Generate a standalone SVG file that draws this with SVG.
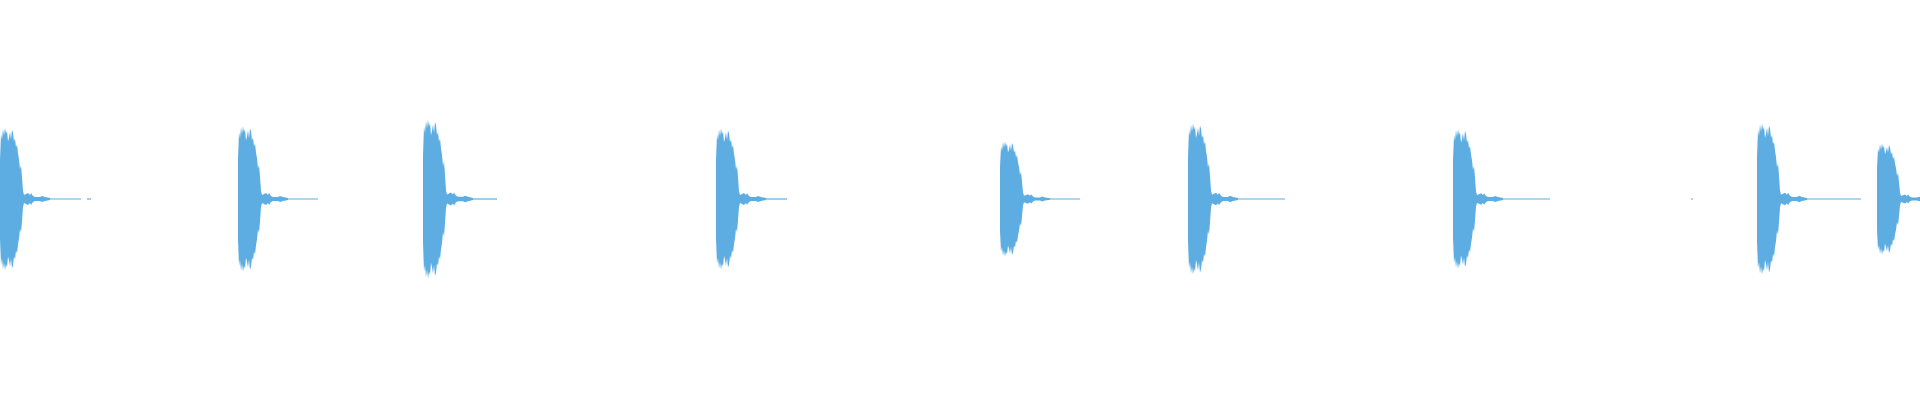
<svg xmlns="http://www.w3.org/2000/svg" width="1920" height="400" viewBox="0 0 1920 400">
<style>.w{fill:#5dade2}.t{stroke:#5dade2;stroke-width:1.2}</style>
<defs>
<path id="b" class="w" d="M0,-40 L1,-66 L2,-60 L3,-71 L4,-64 L5,-72 L6,-66 L7,-69 L8,-58 L9,-62 L10,-68 L11,-60 L12,-70 L13,-67 L14,-58 L15,-61 L16,-52 L17,-55 L18,-46 L19,-40 L20,-30 L21,-34 L22,-22 L23,-8 L24,-4 L26,-5 L28,-6 L30,-4 L31,-6 L33,-3 L35,-2 L40,-2 L42,-3 L45,-2 L50,-1 L50,1 L45,2 L42,3 L40,2 L35,2 L33,3 L31,6 L30,4 L28,6 L26,5 L24,4 L23,8 L22,22 L21,34 L20,30 L19,40 L18,46 L17,55 L16,52 L15,61 L14,58 L13,67 L12,70 L11,60 L10,68 L9,62 L8,58 L7,69 L6,66 L5,72 L4,64 L3,71 L2,60 L1,66 L0,40 Z"/>
</defs>
<g id="bursts">
<use href="#b" transform="translate(0,199) scale(1,0.99)"/>
<use href="#b" transform="translate(238,199) scale(1,1.01)"/>
<use href="#b" transform="translate(423,199) scale(1,1.1)"/>
<use href="#b" transform="translate(716,199) scale(1,0.98)"/>
<use href="#b" transform="translate(1000,199) scale(1,0.8)"/>
<use href="#b" transform="translate(1188,199) scale(1,1.05)"/>
<use href="#b" transform="translate(1453,199) scale(1,0.97)"/>
<use href="#b" transform="translate(1757,199) scale(1,1.05)"/>
<use href="#b" transform="translate(1877,199) scale(1,0.77)"/>
</g>
<g id="tails">
<line class="t" x1="45" y1="199" x2="81" y2="199"/><line class="t" x1="87" y1="199" x2="91" y2="199"/>
<line class="t" x1="283" y1="199" x2="318" y2="199"/>
<line class="t" x1="468" y1="199" x2="497" y2="199"/>
<line class="t" x1="761" y1="199" x2="787" y2="199"/>
<line class="t" x1="1045" y1="199" x2="1080" y2="199"/>
<line class="t" x1="1233" y1="199" x2="1285" y2="199"/>
<line class="t" x1="1498" y1="199" x2="1550" y2="199"/>
<line class="t" x1="1802" y1="199" x2="1861" y2="199"/>
<line class="t" x1="1691" y1="199" x2="1693" y2="199"/>
</g>
</svg>
